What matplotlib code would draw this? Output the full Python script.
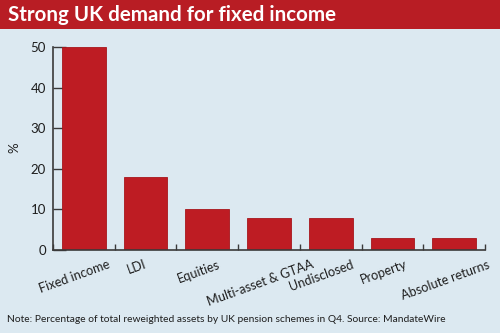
import matplotlib
matplotlib.use("Agg")
import matplotlib.pyplot as plt
from matplotlib.patches import Rectangle
from matplotlib.transforms import ScaledTranslation

categories = ["Fixed income", "LDI", "Equities", "Multi-asset & GTAA",
              "Undisclosed", "Property", "Absolute returns"]
values = [50, 18, 10, 8, 8, 3, 3]
yticks = [0, 10, 20, 30, 40, 50]

title = "Strong UK demand for fixed income"
note = "Note: Percentage of total reweighted assets by UK pension schemes in Q4. Source: MandateWire"

BG = "#dce9f1"
RED = "#be1c23"
BAND = "#b81d24"
AXIS = "#3a3a3a"
TEXT = "#1e1e1e"

plt.rcParams["font.family"] = ["Lato", "DejaVu Sans"]

W, H, DPI = 500, 333, 100
fig = plt.figure(figsize=(W / DPI, H / DPI), dpi=DPI, facecolor=BG)

# title band
fig.patches.append(Rectangle((0, 1 - 29 / H), 1, 29 / H, transform=fig.transFigure,
                             facecolor=BAND, edgecolor="none", zorder=0))
fig.text(8 / W, 1 - 15 / H, title, color="white", fontsize=14.8, fontweight="bold",
         va="center", ha="left")

ax = fig.add_axes([53 / W, 1 - 250 / H, (485 - 53) / W, (250 - 47) / H])
ax.set_facecolor(BG)
x = range(len(categories))
ax.bar(x, values, width=0.71, color=RED, edgecolor="#a8161c", linewidth=0.6, zorder=2)

ax.set_xlim(-0.5, len(categories) - 0.5)
ax.set_ylim(0, 50)
ax.set_yticks(yticks)
ax.tick_params(axis="y", direction="in", length=9, width=1, color=AXIS,
               labelsize=9.5, labelcolor=TEXT, pad=5)

# minor ticks sit on the category boundaries
ax.set_xticks([i + 0.5 for i in range(-1, len(categories))], minor=True)
ax.tick_params(axis="x", which="minor", direction="in", length=4, width=1, color=AXIS)
ax.set_xticks(list(x))
ax.set_xticklabels(categories, rotation=20, ha="center", fontsize=9.2, color=TEXT)
ax.tick_params(axis="x", which="major", length=0, pad=6)
shift = ScaledTranslation(-9 / DPI, 0, fig.dpi_scale_trans)
for lab in ax.get_xticklabels():
    lab.set_transform(lab.get_transform() + shift)

for side in ("top", "right"):
    ax.spines[side].set_visible(False)
for side in ("left", "bottom"):
    ax.spines[side].set_color(AXIS)
    ax.spines[side].set_linewidth(1.2)

fig.text(14 / W, 1 - 148 / H, "%", rotation=90, fontsize=9.5, color=TEXT,
         va="center", ha="center")
fig.text(7 / W, 1 - 319 / H, note, fontsize=7.4, color=TEXT, va="center", ha="left")

fig.savefig("out.png", dpi=DPI, facecolor=BG)
